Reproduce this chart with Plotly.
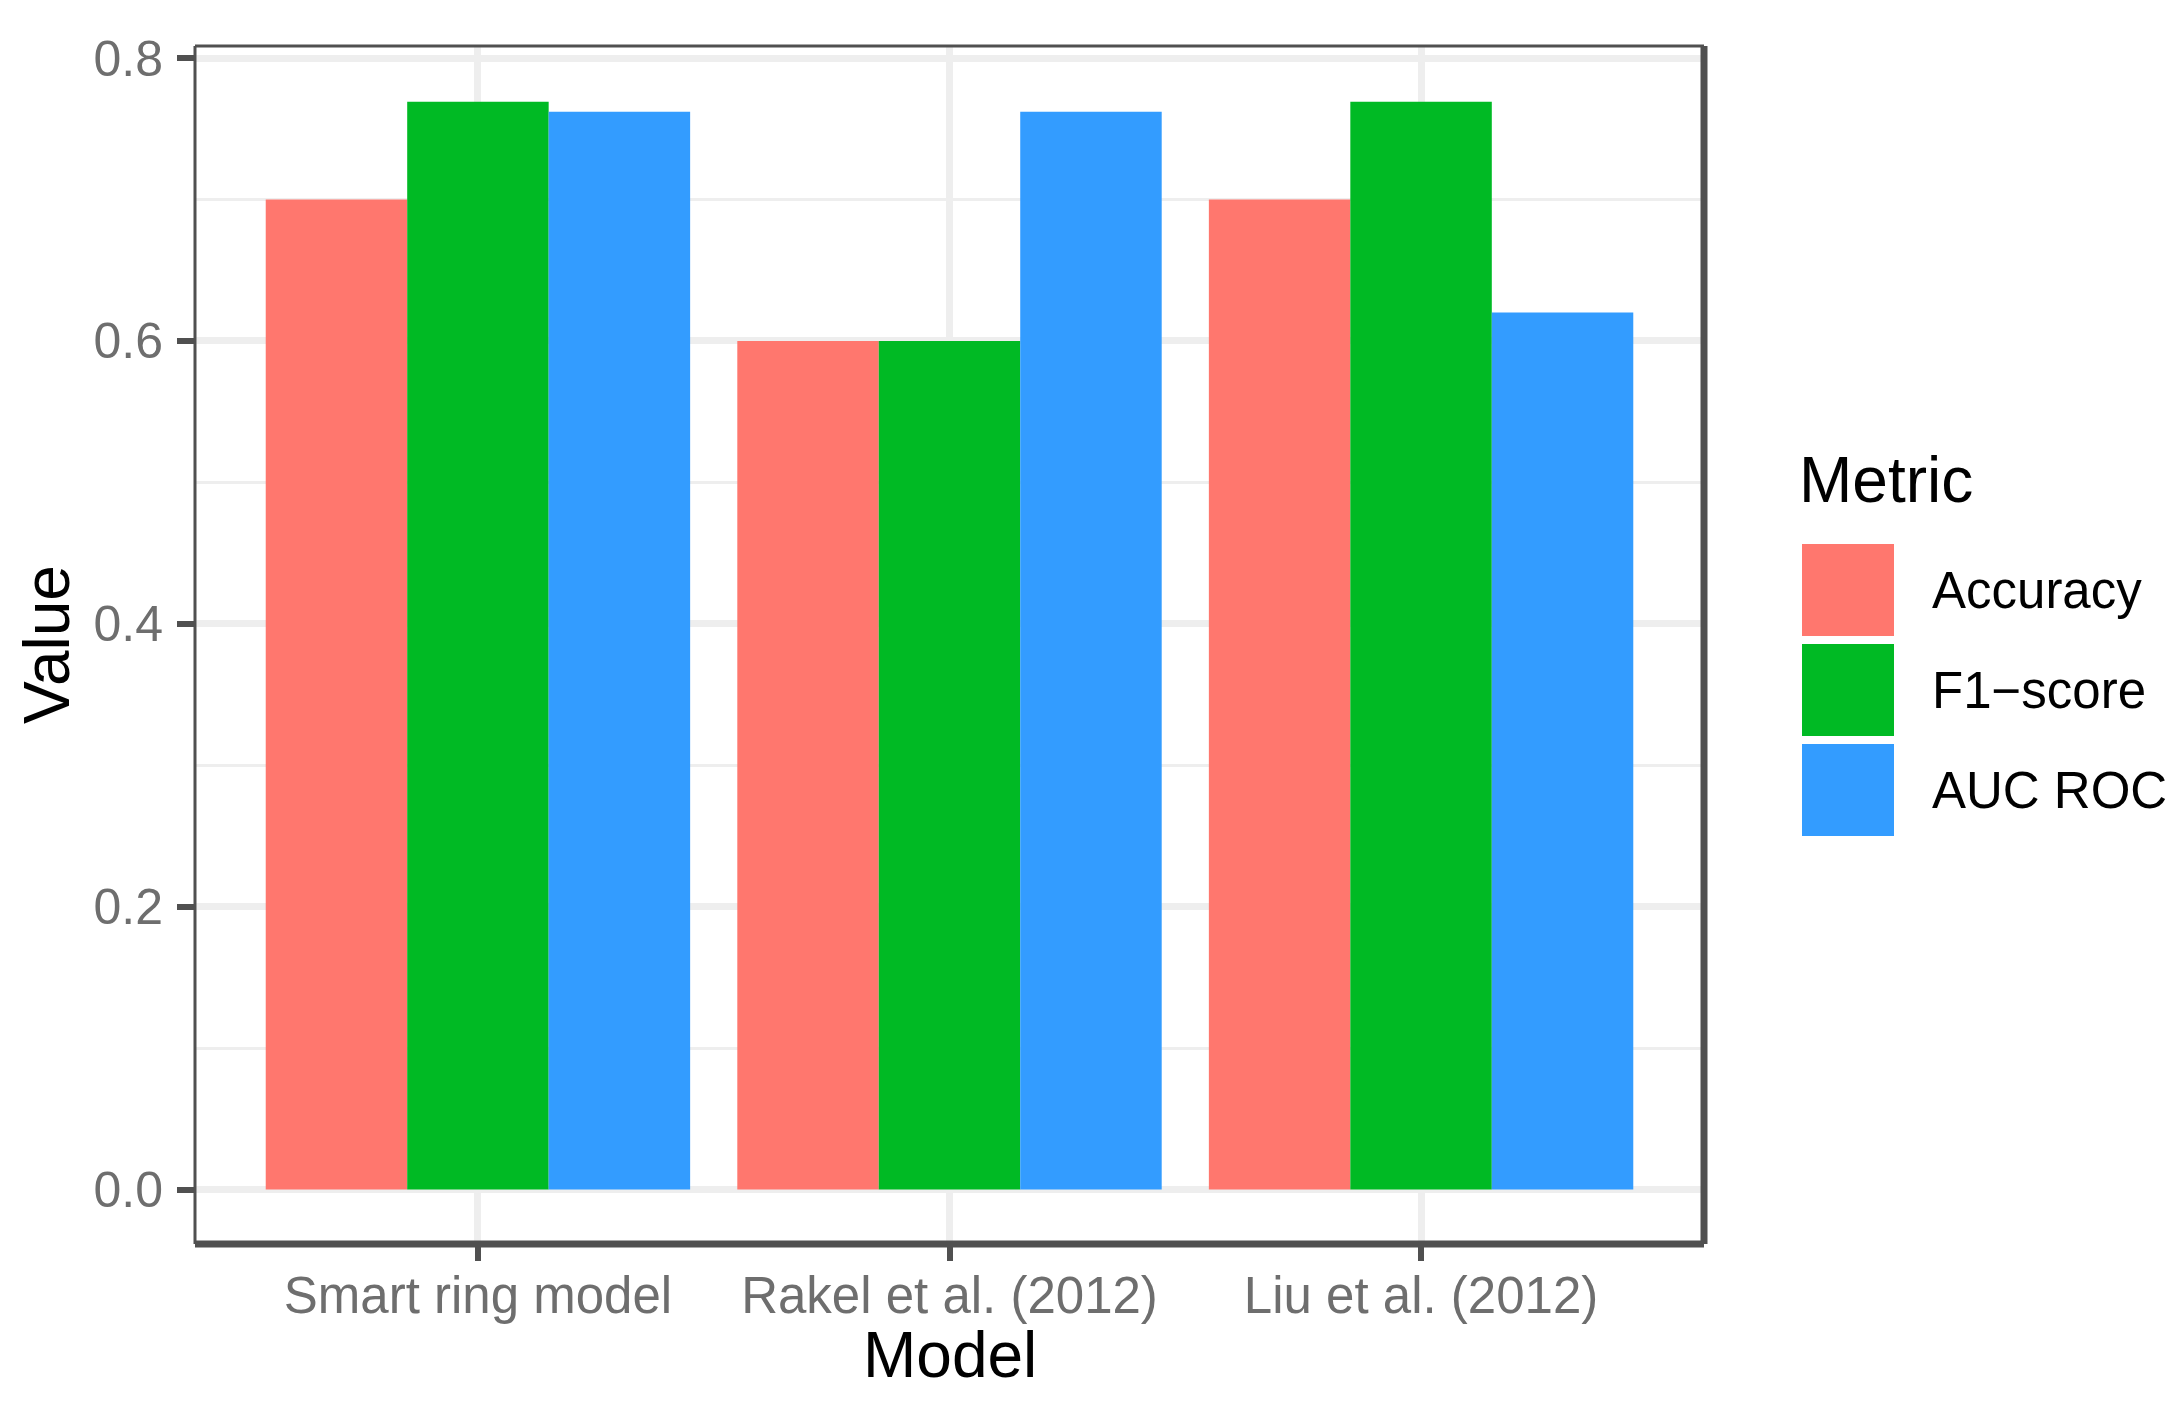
import plotly.graph_objects as go

models = ["Smart ring model", "Rakel et al. (2012)", "Liu et al. (2012)"]
metrics = ["Accuracy", "F1\u2212score", "AUC ROC"]
accuracy = [0.70, 0.60, 0.70]
f1_score = [0.769, 0.60, 0.769]
auc_roc = [0.762, 0.762, 0.62]
y_ticks = [0.0, 0.2, 0.4, 0.6, 0.8]
y_tick_labels = ["0.0", "0.2", "0.4", "0.6", "0.8"]
y_minor = [0.1, 0.3, 0.5, 0.7]

colors = ["#FF776E", "#00BA24", "#339CFF"]
series = [accuracy, f1_score, auc_roc]

W, H = 2182, 1401
OFF = 8  # default page body margin
L, R, T, B = 195, 1704, 46, 1244  # panel pixel box on the page

FW, FH = W - 2 * OFF, H - 2 * OFF


def px_x(x):
    return (x - L) / (R - L)


def px_y(y):
    return (B - y) / (B - T)


fig = go.Figure()
for name, vals, c in zip(metrics, series, colors):
    fig.add_trace(go.Bar(x=models, y=vals, name=name, marker=dict(color=c, line=dict(width=0)),
                         showlegend=False))

font_family = "Liberation Sans, Arial, sans-serif"
grid = "#EEEEEE"
dark = "#505050"
tick_text = "#6E6E6E"

fig.update_layout(
    width=FW, height=FH,
    margin=dict(l=L - OFF, r=FW - (R - OFF), t=T - OFF, b=FH - (B - OFF), pad=0),
    paper_bgcolor="white", plot_bgcolor="white",
    barmode="group", bargap=0.1, bargroupgap=0,
    font=dict(family=font_family, color="black"),
    xaxis=dict(
        range=[-0.6, 2.6], showgrid=True, gridcolor=grid, gridwidth=6.5,
        ticks="outside", ticklen=16, tickwidth=6, tickcolor=dark,
        tickfont=dict(size=51, color=tick_text, family=font_family),
        showline=False, zeroline=False, ticklabelstandoff=-9,
    ),
    yaxis=dict(
        range=[-0.0385, 0.8085], tickmode="array", tickvals=y_ticks, ticktext=y_tick_labels,
        showgrid=True, gridcolor=grid, gridwidth=6.5,
        ticks="outside", ticklen=17, tickwidth=6, tickcolor=dark,
        tickfont=dict(size=50, color=tick_text, family=font_family),
        showline=False, zeroline=False, ticklabelstandoff=4,
        minor=dict(tickmode="array", tickvals=y_minor, showgrid=True, gridcolor=grid,
                   gridwidth=3.3, ticks=""),
    ),
)

# panel border
for (x0, y0, x1, y1, w) in [(0, 0, 0, 1, 3), (0, 1, 1, 1, 3), (1, 0, 1, 1, 7), (0, 0, 1, 0, 7)]:
    fig.add_shape(type="line", xref="paper", yref="paper", x0=x0, y0=y0, x1=x1, y1=y1,
                  line=dict(color=dark, width=w), layer="above")

# axis titles
fig.add_annotation(text="Value", xref="paper", yref="paper", x=px_x(47), y=0.5,
                   xanchor="center", yanchor="middle", textangle=-90, showarrow=False,
                   font=dict(size=64, color="black", family=font_family))
fig.add_annotation(text="Model", xref="paper", yref="paper", x=0.5, y=px_y(1355),
                   xanchor="center", yanchor="middle", showarrow=False,
                   font=dict(size=64, color="black", family=font_family))

# legend (drawn manually to match the large ggplot-style keys)
fig.add_annotation(text="Metric", xref="paper", yref="paper", x=px_x(1797), y=px_y(480),
                   xanchor="left", yanchor="middle", showarrow=False,
                   font=dict(size=64, color="black", family=font_family))
key_top = 544
for i, (name, c) in enumerate(zip(metrics, colors)):
    y0 = key_top + i * 100
    fig.add_shape(type="rect", xref="paper", yref="paper",
                  x0=px_x(1802), x1=px_x(1894), y0=px_y(y0), y1=px_y(y0 + 92),
                  fillcolor=c, line=dict(width=0))
    fig.add_annotation(text=name, xref="paper", yref="paper", x=px_x(1930), y=px_y(y0 + 46),
                       xanchor="left", yanchor="middle", showarrow=False,
                       font=dict(size=51, color="black", family=font_family))

fig.write_html("out.html")
